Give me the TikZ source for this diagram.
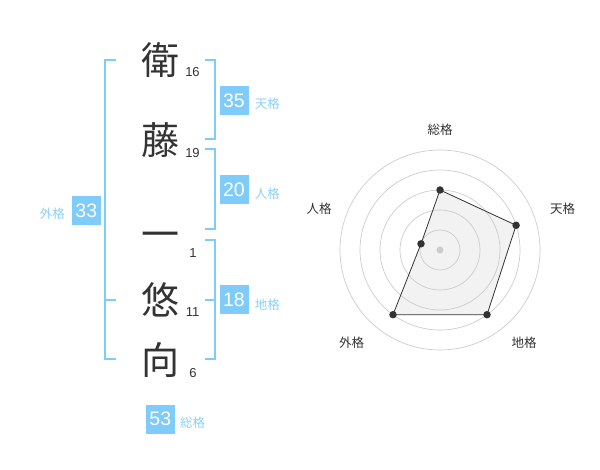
\documentclass[tikz,border=0pt]{standalone}
\usepackage{fontspec}
\setmainfont{Liberation Sans}
\newfontfamily\jp{Noto Sans CJK JP}
\definecolor{kblue}{HTML}{7FCBF9}
\definecolor{klabel}{HTML}{8BD0F7}
\definecolor{kdark}{HTML}{333333}
\definecolor{kgrid}{HTML}{CCCCCC}
\definecolor{kfill}{HTML}{F2F2F2}
\tikzset{
  kanji/.style={inner sep=0pt, text=kdark, font=\jp\fontsize{38}{38}\selectfont},
  strokes/.style={inner sep=0pt, text=kdark, font=\fontsize{13}{13}\selectfont},
  valbox/.style={fill=kblue, text=white, inner sep=0pt, minimum width=29pt, minimum height=29pt, font=\fontsize{19.5}{19.5}\selectfont},
  kaku/.style={inner sep=0pt, text=klabel, anchor=west, font=\jp\fontsize{12.5}{13}\selectfont},
  bracket/.style={draw=kblue, line width=2pt},
  grid ring/.style={draw=kgrid, line width=0.7pt},
  radarlab/.style={inner sep=0pt, text=kdark, font=\jp\fontsize{12.5}{13}\selectfont},
  dotpt/.style={circle, fill=kdark, inner sep=0pt, minimum size=7.5pt},
}
\begin{document}
\begin{tikzpicture}[x=1pt,y=-1pt]
\useasboundingbox (0,0) rectangle (600,470);
% characters
\node[kanji] (c1) at (160.5,60) {衛};
\node[kanji] (c2) at (160.5,140.5) {藤};
\node[kanji] (c3) at (160.5,240) {一};
\node[kanji] (c4) at (160.5,300) {悠};
\node[kanji] (c5) at (160.5,360) {向};
\node[strokes] (n1) at (192.5,72.5) {16};
\node[strokes] (n2) at (192.5,153) {19};
\node[strokes] (n3) at (193,253) {1};
\node[strokes] (n4) at (192.5,312.5) {11};
\node[strokes] (n5) at (193,373) {6};
% brackets
\draw[bracket] (116,60) -- (104.5,60) -- (104.5,359.5) -- (116,359.5);
\draw[bracket] (104.5,300) -- (116,300);
\draw[bracket] (205,60.5) -- (215,60.5) -- (215,139) -- (205,139);
\draw[bracket] (205,149.5) -- (215,149.5) -- (215,229) -- (205,229);
\draw[bracket] (205,240) -- (215,240) -- (215,359.5) -- (205,359.5);
\draw[bracket] (205,300) -- (215,300);
% value boxes
\node[valbox] (ten) at (234,100.5) {35};
\node[kaku] at ([xshift=6pt,yshift=-3.5pt]ten.east) {天格};
\node[valbox] (jin) at (234,190) {20};
\node[kaku] at ([xshift=6pt,yshift=-3.5pt]jin.east) {人格};
\node[valbox] (chi) at (234,300) {18};
\node[kaku] at ([xshift=6pt,yshift=-4.5pt]chi.east) {地格};
\node[valbox] (gai) at (86.3,210.3) {33};
\node[kaku, anchor=east] at ([xshift=-6.5pt,yshift=-3pt]gai.west) {外格};
\node[valbox] (sou) at (160.3,419) {53};
\node[kaku] at ([xshift=5pt,yshift=-4pt]sou.east) {総格};
% radar
\coordinate (rc) at (440,250);
\coordinate (pS) at (440,190);
\coordinate (pT) at (516.1,225.3);
\coordinate (pC) at (487,314.7);
\coordinate (pG) at (393,314.7);
\coordinate (pJ) at (421,243.8);
\fill[kfill] (pS) -- (pT) -- (pC) -- (pG) -- (pJ) -- cycle;
\foreach \r in {20,40,60,80,100} \draw[grid ring] (rc) circle[radius=\r];
\draw[draw=kdark, line width=0.8pt, line join=round] (pS) -- (pT) -- (pC) -- (pG) -- (pJ) -- cycle;
\foreach \p in {pS,pT,pC,pG,pJ} \node[dotpt] at (\p) {};
\node[circle, fill=kgrid, inner sep=0pt, minimum size=7pt] (ctr) at (rc) {};
\node[radarlab] (lS) at (440,130) {総格};
\node[radarlab] (lT) at (562.5,208.5) {天格};
\node[radarlab] (lJ) at (319,209) {人格};
\node[radarlab] (lG) at (351.5,342.5) {外格};
\node[radarlab] (lC) at (524,342.5) {地格};
\end{tikzpicture}
\end{document}
